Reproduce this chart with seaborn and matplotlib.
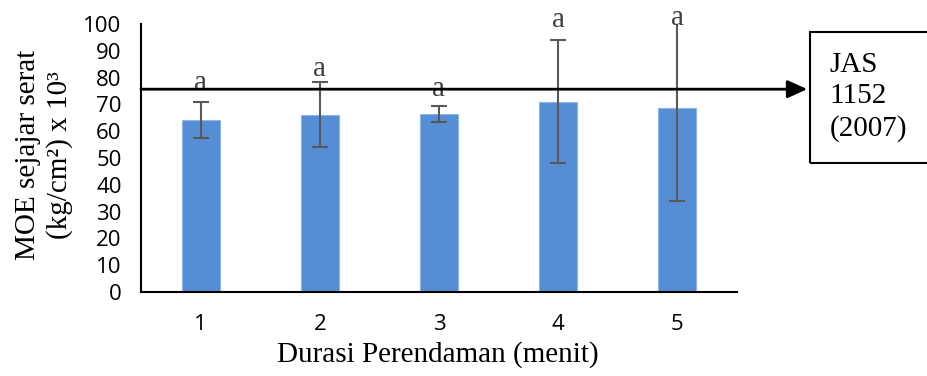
import matplotlib
matplotlib.use("Agg")
import matplotlib.pyplot as plt
import seaborn as sns
import pandas as pd
from matplotlib.patches import Rectangle

categories = ["1", "2", "3", "4", "5"]
values = [64.2, 66.2, 66.5, 71.0, 68.8]
errors = [6.6, 12.2, 3.0, 23.0, 35.0]
letters = ["a", "a", "a", "a", "a"]
letter_y = [75.5, 80.5, 73.0, 98.9, 99.6]
standard_value = 75.7
standard_text = "JAS\n1152\n(2007)"
yticks = [0, 10, 20, 30, 40, 50, 60, 70, 80, 90, 100]

sns.set_theme(style="white")
plt.rcParams["font.family"] = ["Open Sans", "DejaVu Sans"]

df = pd.DataFrame({"Durasi": categories, "MOE": values})

fig = plt.figure(figsize=(9.27, 3.76), dpi=100)
ax = fig.add_axes([0.1521, 0.2234, 0.795 - 0.1521, 0.936 - 0.2234])

sns.barplot(data=df, x="Durasi", y="MOE", color="#558ed5", width=0.32,
            errorbar=None, saturation=1, ax=ax, edgecolor="#8fb4e3", linewidth=0.8)
ax.errorbar(range(len(values)), values, yerr=errors, fmt="none",
            ecolor="#595959", elinewidth=1.5, capsize=6, capthick=1.5)

for i, (t, yy) in enumerate(zip(letters, letter_y)):
    ax.text(i, yy, t, ha="center", va="baseline", fontsize=21,
            family="Liberation Serif", color="#404040", clip_on=False)

ax.set_xlim(-0.5, 4.5)
ax.set_ylim(0, 100)
ax.set_yticks(yticks)
ax.tick_params(axis="both", length=0, labelsize=16, colors="black",
               labelfontfamily="Open Sans")
ax.tick_params(axis="y", pad=14)
ax.tick_params(axis="x", pad=16)

for s in ["top", "right"]:
    ax.spines[s].set_visible(False)
for s in ["left", "bottom"]:
    ax.spines[s].set_color("black")
    ax.spines[s].set_linewidth(1.5)

ax.set_xlabel("")
ax.set_ylabel("")
fig.text(438 / 927, 1 - 355 / 376, "Durasi Perendaman (menit)", family="Liberation Serif",
         fontsize=21, ha="center", va="center", color="black")
fig.text(44 / 927, 1 - 155 / 376, "MOE sejajar serat\n(kg/cm²) x 10³", family="Liberation Serif",
         fontsize=21, ha="center", va="center", rotation=90, color="black",
         linespacing=1.2, multialignment="center")

ax.annotate("", xy=(5.09, standard_value), xytext=(-0.5, standard_value),
            xycoords="data", textcoords="data", annotation_clip=False,
            arrowprops=dict(arrowstyle="-|>,head_length=1.0,head_width=0.45",
                            color="black", lw=2, shrinkA=0, shrinkB=0))

box = Rectangle((0.8738, 0.5673), 0.2, 0.9157 - 0.5673, transform=fig.transFigure,
                fill=False, edgecolor="black", linewidth=1.5, clip_on=False)
fig.patches.append(box)
fig.text(0.895, 1 - 97 / 376, standard_text, family="Liberation Serif", fontsize=21,
         ha="left", va="center", linespacing=1.25, color="black")

fig.savefig("out.png", dpi=100)
